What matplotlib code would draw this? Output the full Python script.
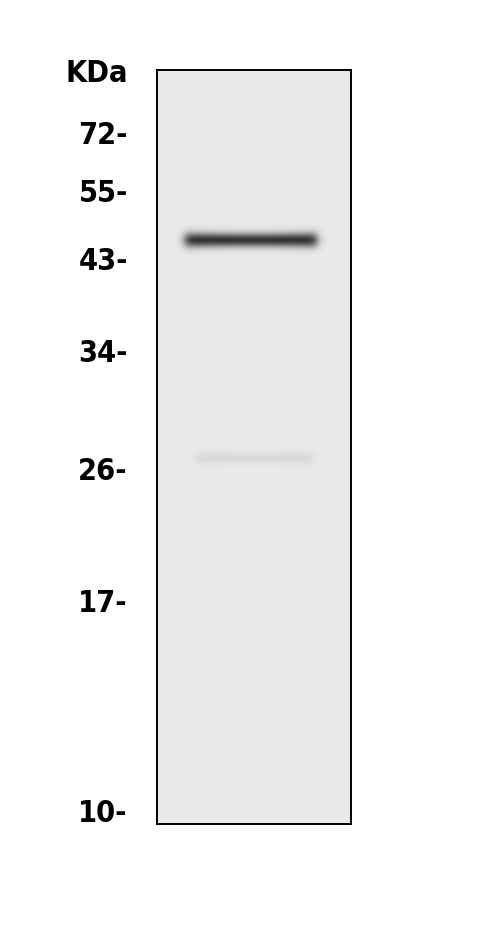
import matplotlib

matplotlib.use("Agg")
import matplotlib.pyplot as plt
import numpy as np
from matplotlib.font_manager import FontProperties

# marker ladder (kDa) and where each one ran on the membrane (pixel rows)
marker_kda = ["72", "55", "43", "34", "26", "17", "10"]
marker_row = [132, 190, 258, 351, 468, 600, 811]

# detected bands: centre row, left col, right col, darkness (0-255), sigma (rows)
band_row = [240, 458]
band_left = [185, 196]
band_right = [317, 313]
band_depth = [180, 17]
band_sigma = [4.8, 4.0]

background = 233.0
lane_x0, lane_x1 = 157, 351
lane_y0, lane_y1 = 70, 824


def lane_image() -> np.ndarray:
    xs = np.arange(lane_x0, lane_x1) + 0.5
    ys = np.arange(lane_y0, lane_y1) + 0.5
    X, Y = np.meshgrid(xs, ys)
    img = np.full(X.shape, background)
    for r, l, rt, d, s in zip(band_row, band_left, band_right, band_depth, band_sigma):
        gx = 0.5 * (np.tanh((X - l) / 5.0) - np.tanh((X - rt) / 5.0))
        mid = 0.5 * (l + rt)
        # slight smile: edges a little heavier than the middle
        wobble = 1.0 + 0.12 * ((X - mid) / (0.5 * (rt - l))) ** 2
        gy = np.exp(-0.5 * ((Y - r) / (s * wobble)) ** 2)
        img -= d * gx * gy
    # faint haze above the main band
    hx = 0.5 * (np.tanh((X - 190) / 8.0) - np.tanh((X - 312) / 8.0))
    hy = 0.5 * (np.tanh((Y - 183) / 4.0) - np.tanh((Y - 230) / 8.0))
    img -= 1.5 * hx * hy
    return np.clip(img, 0, 255)


fig = plt.figure(figsize=(5.0, 9.25), dpi=100)
ax = fig.add_axes([lane_x0 / 500, 1 - lane_y1 / 925,
                   (lane_x1 - lane_x0) / 500, (lane_y1 - lane_y0) / 925])
ax.imshow(lane_image(), cmap="gray", vmin=0, vmax=255, aspect="auto",
          extent=(lane_x0, lane_x1, lane_y1, lane_y0), interpolation="bilinear")
ax.set_xlim(lane_x0, lane_x1)
ax.set_ylim(lane_y1, lane_y0)
ax.set_xticks([])
ax.set_yticks(marker_row)
ax.set_yticklabels([f"{k}-" for k in marker_kda])
label_font = FontProperties(family=["DejaVu Sans"], weight="bold",
                            stretch="condensed", size=22)
for t in ax.get_yticklabels():
    t.set_fontproperties(label_font)
ax.tick_params(axis="y", length=0, pad=21)
for sp in ax.spines.values():
    sp.set_linewidth(1.4)
    sp.set_color("black")

fig.text(128 / 500, 1 - 73 / 925, "KDa", ha="right", va="center",
         fontproperties=label_font)

fig.savefig("out.png", dpi=100, facecolor="white")
